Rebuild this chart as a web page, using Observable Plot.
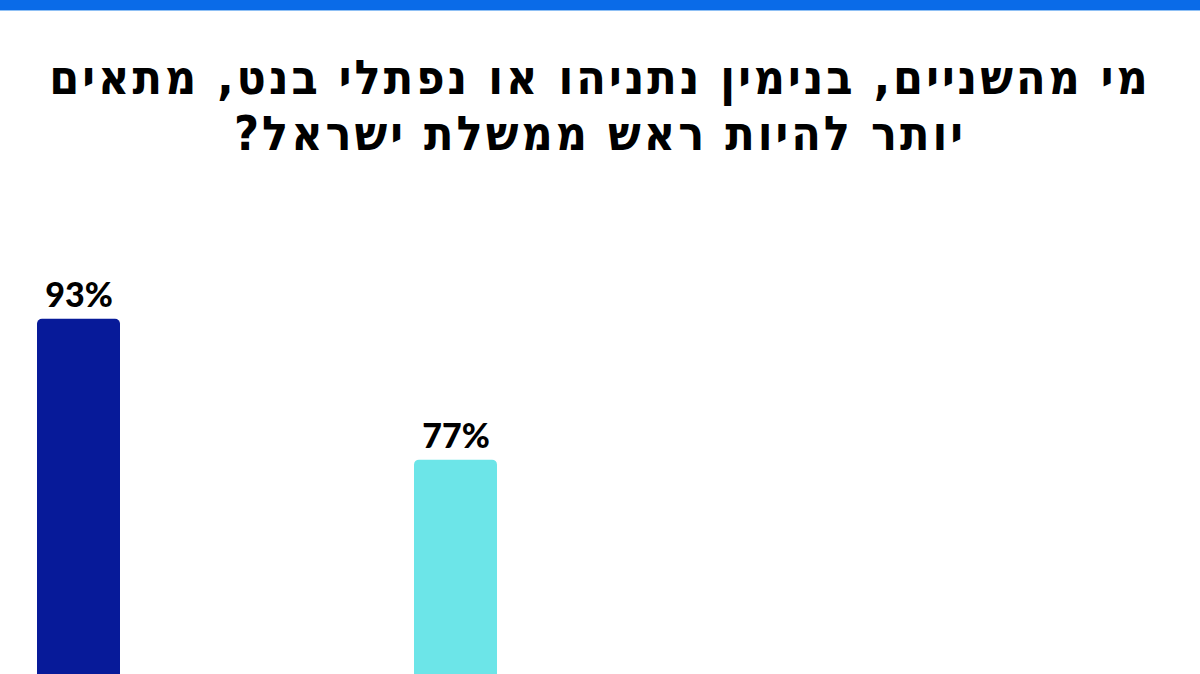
<!DOCTYPE html>
<html lang="he">
<head>
<meta charset="utf-8">
<script src="https://cdn.jsdelivr.net/npm/d3@7"></script>
<script src="https://cdn.jsdelivr.net/npm/@observablehq/plot@0.6"></script>
<style>
  html, body { margin: 0; padding: 0; background: #fff; overflow: hidden; }
  body { width: 1200px; height: 674px; position: relative; }
  .topbar { height: 10px; background: #0a6be8; border-bottom: 1px solid #8fc0f5; }
  h1 {
    margin: 0; position: absolute; top: 49px; left: 0; width: 1200px;
    text-align: center; direction: rtl;
    font-family: "Liberation Sans Narrow", "DejaVu Sans Condensed", "Liberation Sans", sans-serif;
    font-weight: 700; font-size: 48px; line-height: 56px; letter-spacing: 3px; color: #000;
  }
  #chart { position: absolute; top: 0; left: 0; }
</style>
</head>
<body>
<div class="topbar"></div>
<h1>מי מהשניים, בנימין נתניהו או נפתלי בנט, מתאים<br>יותר להיות ראש ממשלת ישראל?</h1>
<div id="chart"></div>
<script>
const categories = ["נתניהו", "בנט"];
const values = [93, 77];
const colors = ["#071a99", "#6ce5e8"];
const labels = ["93%", "77%"];

const data = categories.map((c, i) => ({ name: c, value: values[i], color: colors[i], label: labels[i] }));

const chart = Plot.plot({
  width: 1200,
  height: 1200,
  marginTop: 0, marginBottom: 0, marginLeft: 0, marginRight: 0,
  x: { type: "band", domain: categories, range: [36, 497], paddingInner: 0.78, paddingOuter: 0, axis: null },
  y: { domain: [0, 100], range: [1138, 257], axis: null },
  style: { background: "transparent", overflow: "visible" },
  marks: [
    Plot.barY(data, { x: "name", y: "value", fill: "color", rx: 5 }),
    Plot.text(data, {
      x: "name", y: "value", text: "label", dy: -12, lineAnchor: "bottom",
      fontFamily: "Lato, sans-serif", fontWeight: 900, fontSize: 34, fill: "#000"
    })
  ]
});
document.getElementById("chart").appendChild(chart);
</script>
</body>
</html>
